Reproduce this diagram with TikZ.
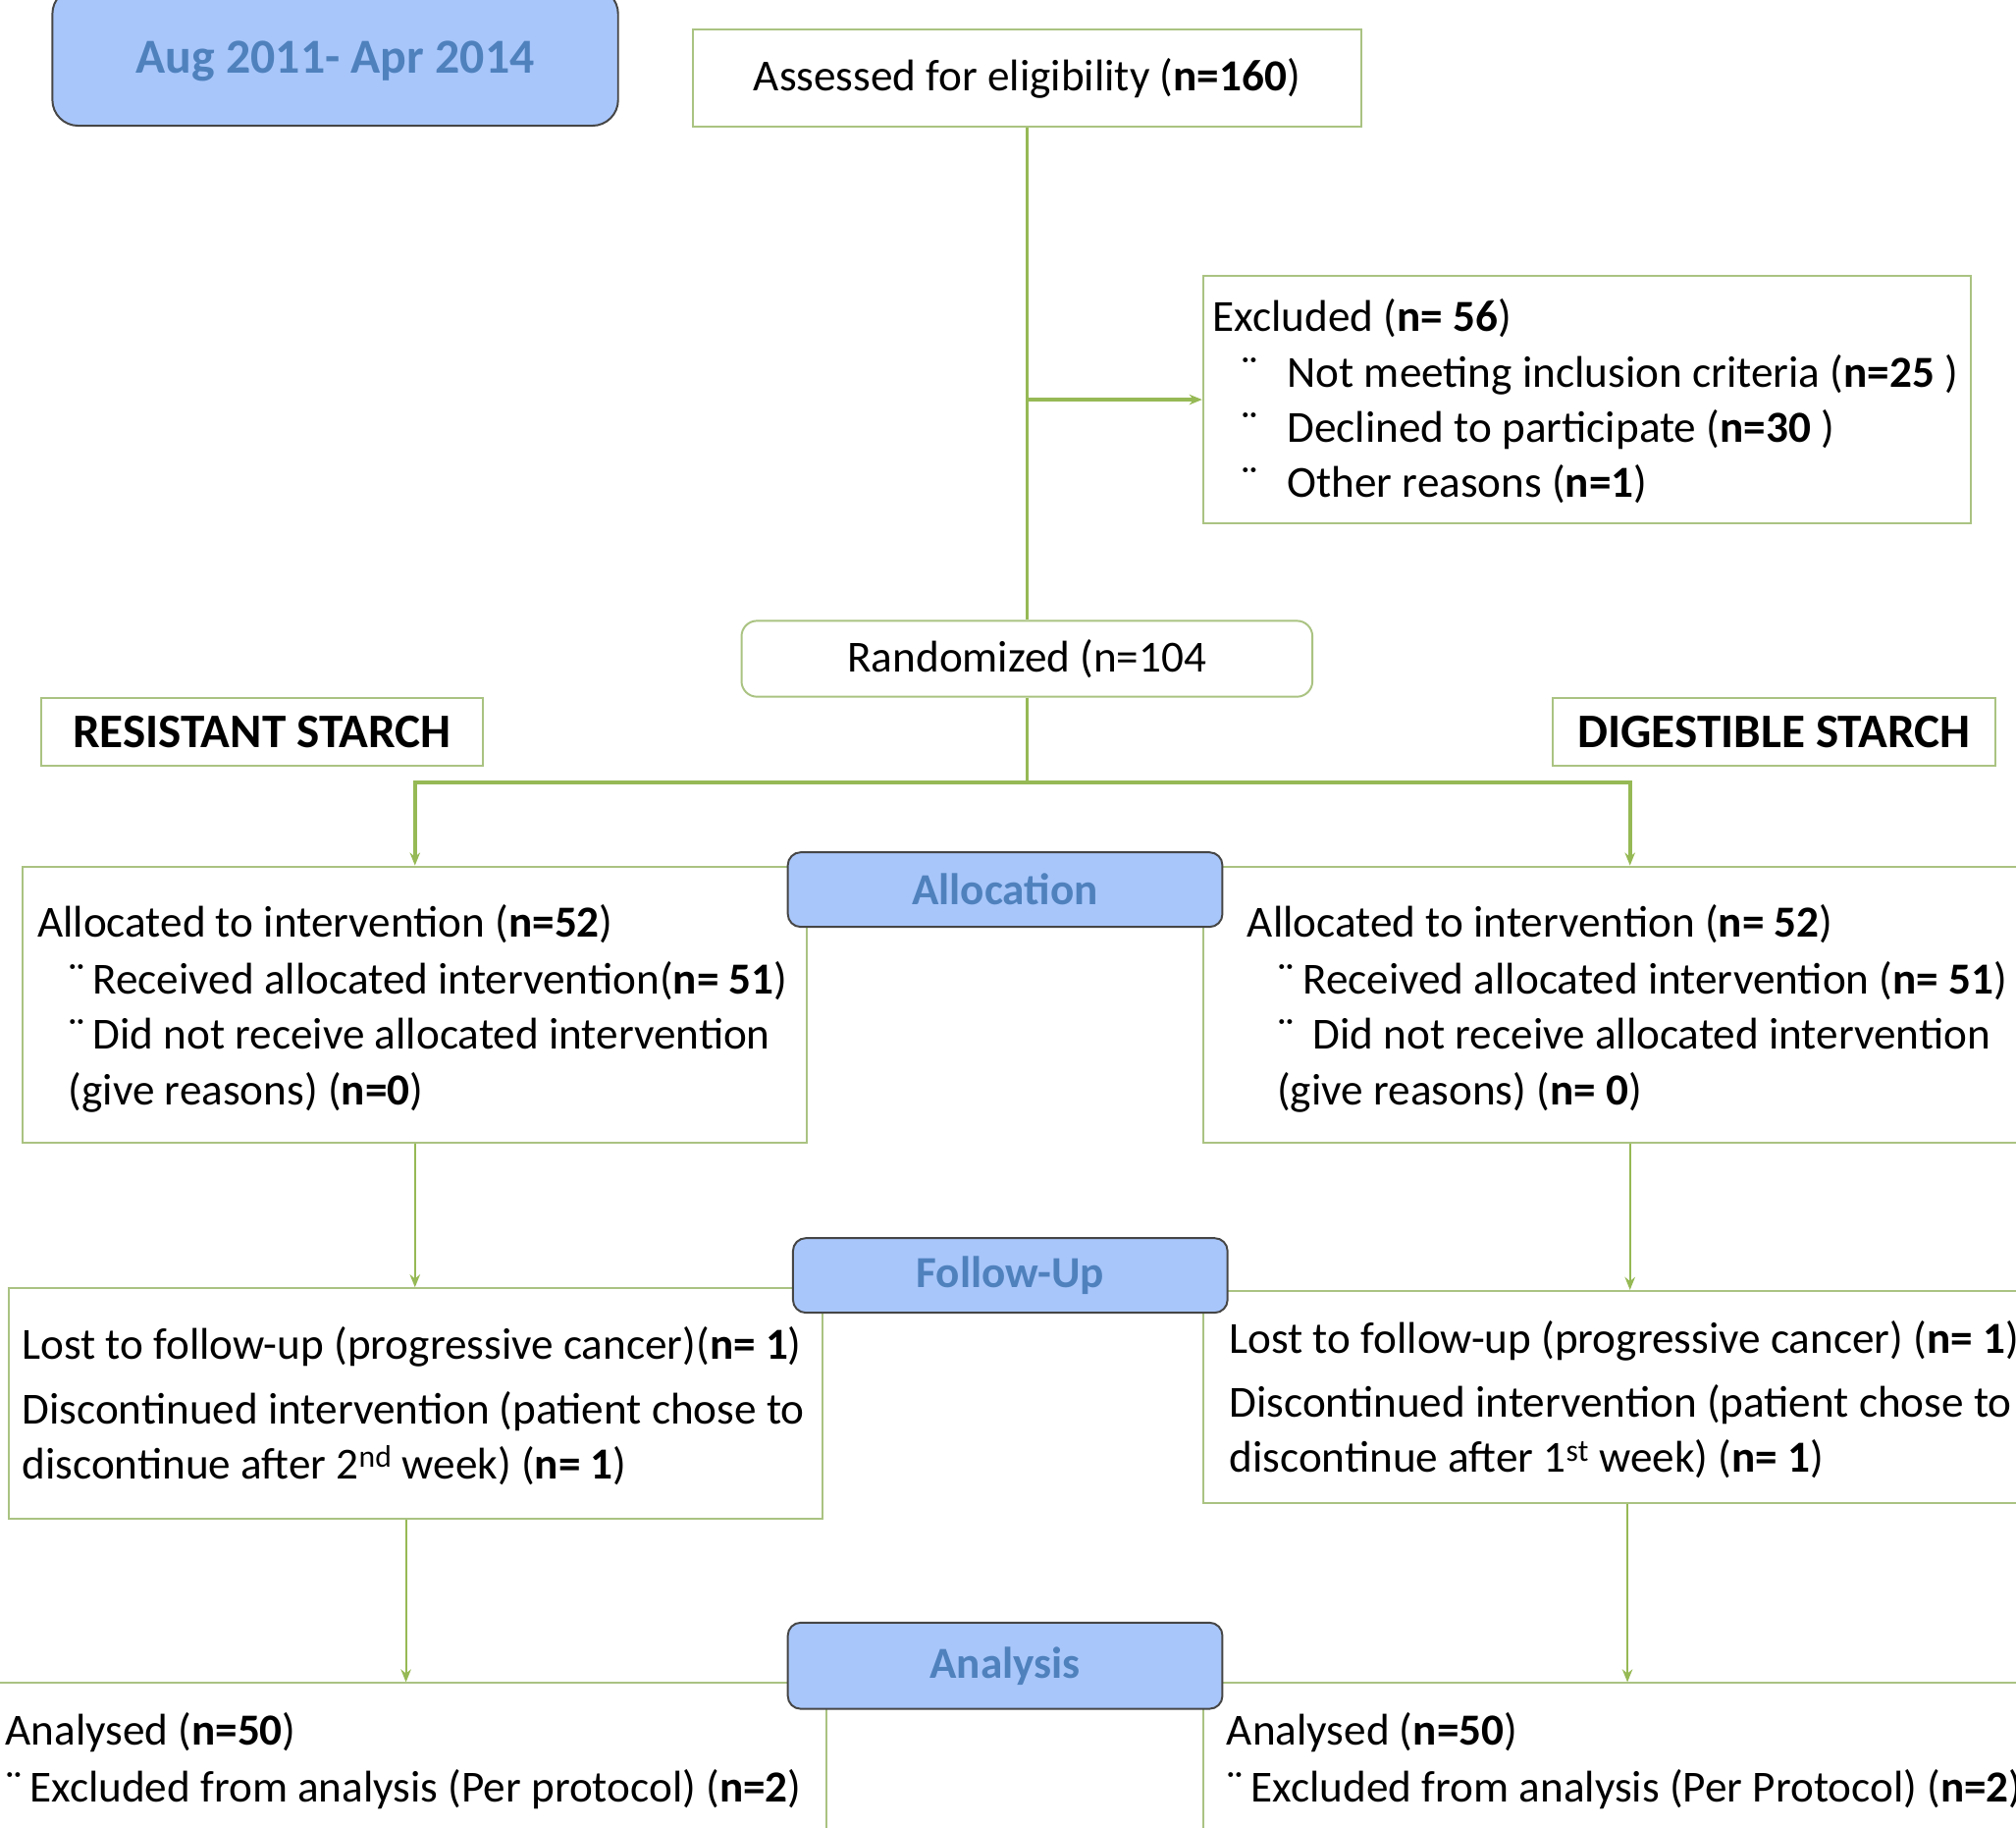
\documentclass[tikz,border=0pt]{standalone}
\usepackage{fontspec}
\setmainfont{Carlito}
\usetikzlibrary{arrows.meta}
\definecolor{conn}{RGB}{150,185,85}
\definecolor{boxline}{RGB}{170,195,130}
\definecolor{lblfill}{RGB}{168,198,250}
\definecolor{lbltext}{RGB}{79,129,189}
\definecolor{lblline}{RGB}{70,70,70}
\begin{document}
\begin{tikzpicture}[x=1pt,y=-1pt,
  box/.style={draw=boxline, line width=1.5pt, inner sep=0pt, anchor=north west, font=\fontsize{34.5}{40}\selectfont},
  lbl/.style={draw=lblline, line width=1.5pt, fill=lblfill, rounded corners=10pt, inner sep=0pt, anchor=north west, text=lbltext, font=\fontsize{34.5}{40}\selectfont\bfseries},
  txt/.style={inner sep=0pt, anchor=base west, font=\fontsize{34.5}{40}\selectfont},
  cline/.style={draw=conn, line width=2.5pt},
  arr/.style={cline, -{Stealth[length=10pt,width=8pt]}},
  thinarr/.style={draw=conn, line width=1.6pt, -{Stealth[length=10pt,width=8pt]}},
]
\useasboundingbox (0,0) rectangle (1568,1421);
\clip (0,0) rectangle (1568,1421);

% boxes
\node[box, minimum width=520pt, minimum height=76pt] (assess) at (538,22) {Assessed for eligibility (\textbf{n=160})};
\node[box, minimum width=597pt, minimum height=192pt] (excl) at (935,214) {};
\node[box, rounded corners=12pt, minimum width=444pt, minimum height=59pt] (rand) at (576,482) {Randomized (n=104};
\node[box, minimum width=344pt, minimum height=53pt, font=\fontsize{37.5}{42}\selectfont\bfseries] (rs) at (31,542) {RESISTANT STARCH};
\node[box, minimum width=344pt, minimum height=53pt, font=\fontsize{37.5}{42}\selectfont\bfseries] (ds) at (1207,542) {DIGESTIBLE STARCH};
\node[box, minimum width=610pt, minimum height=215pt] (allocL) at (17,673) {};
\node[box, minimum width=664pt, minimum height=215pt] (allocR) at (935,673) {};
\node[box, minimum width=633pt, minimum height=179pt] (fuL) at (6,1001) {};
\node[box, minimum width=660pt, minimum height=165pt] (fuR) at (935,1003) {};
\node[box, minimum width=654pt, minimum height=140pt] (anL) at (-12,1308) {};
\node[box, minimum width=660pt, minimum height=140pt] (anR) at (935,1308) {};

% connectors
\draw[cline] (assess.south) -- (rand.north);
\draw[arr] (assess.south |- excl.west) -- (excl.west);
\coordinate (fork) at ([yshift=-66pt]rand.south);
\draw[cline] (rand.south) -- (fork);
\draw[arr, line width=3pt] (fork) -| (allocL.north);
\draw[arr, line width=3pt] (fork) -| (allocR.north);
\draw[thinarr] (allocL.south) -- (allocL.south |- fuL.north);
\draw[thinarr] (allocR.south) -- (allocR.south |- fuR.north);
\draw[thinarr] (fuL.south -| anL.north) -- (anL.north);
\draw[thinarr] (fuR.south) -- (fuR.south |- anR.north);

% excluded text
\node[txt] (e0) at (943,258) {Excluded (\textbf{n= 56})};
\node[txt] (e1b) at (965,301) {¨};
\node[txt] (e1) at (1001,301) {Not meeting inclusion criteria (\textbf{n=25} )};
\node[txt] (e2b) at (965,344) {¨};
\node[txt] (e2) at (1001,344) {Declined to participate (\textbf{n=30} )};
\node[txt] (e3b) at (965,387) {¨};
\node[txt] (e3) at (1001,387) {Other reasons (\textbf{n=1})};

% allocation left
\node[txt] (al0) at (29,729) {Allocated to intervention (\textbf{n=52})};
\node[txt] (al1b) at (53,773) {¨};
\node[txt] (al1) at (72,773) {Received allocated intervention(\textbf{n= 51})};
\node[txt] (al2b) at (53,816) {¨};
\node[txt] (al2) at (72,816) {Did not receive allocated intervention};
\node[txt] (al3) at (53,859) {(give reasons) (\textbf{n=0})};

% allocation right
\node[txt] (ar0) at (970,729) {Allocated to intervention (\textbf{n= 52})};
\node[txt] (ar1b) at (993,773) {¨};
\node[txt] (ar1) at (1013,773) {Received allocated intervention (\textbf{n= 51})};
\node[txt] (ar2b) at (993,816) {¨};
\node[txt] (ar2) at (1021,816) {Did not receive allocated intervention};
\node[txt] (ar3) at (993,859) {(give reasons) (\textbf{n= 0})};

% follow-up left
\node[txt] (fl0) at (17,1057) {Lost to follow-up (progressive cancer)(\textbf{n= 1})};
\node[txt] (fl1) at (17,1107) {Discontinued intervention (patient chose to};
\node[txt] (fl2) at (17,1150) {discontinue after 2\textsuperscript{nd} week) (\textbf{n= 1})};

% follow-up right
\node[txt] (fr0) at (956,1052) {Lost to follow-up (progressive cancer) (\textbf{n= 1})};
\node[txt] (fr1) at (956,1102) {Discontinued intervention (patient chose to};
\node[txt] (fr2) at (956,1145) {discontinue after 1\textsuperscript{st} week) (\textbf{n= 1})};

% analysis
\node[txt] (nl0) at (4,1357) {Analysed (\textbf{n=50})};
\node[txt] (nl1b) at (4,1401) {¨};
\node[txt] (nl1) at (23,1401) {Excluded from analysis (Per protocol) (\textbf{n=2})};
\node[txt] (nr0) at (954,1357) {Analysed (\textbf{n=50})};
\node[txt] (nr1b) at (954,1401) {¨};
\node[txt] (nr1) at (973,1401) {Excluded from analysis (Per Protocol) (\textbf{n=2})};

% labels
\node[lbl, rounded corners=20pt, minimum width=440pt, minimum height=107pt, text depth=0pt, font=\fontsize{38}{44}\selectfont\bfseries] (date) at (40,-10) {Aug 2011- Apr 2014};
\node[lbl, minimum width=338pt, minimum height=58pt] (lalloc) at (612,662) {Allocation};
\node[lbl, minimum width=338pt, minimum height=58pt] (lfu) at (616,962) {Follow-Up};
\node[lbl, minimum width=338pt, minimum height=67pt] (lan) at (612,1261) {\raisebox{3pt}{Analysis}};
\end{tikzpicture}
\end{document}
